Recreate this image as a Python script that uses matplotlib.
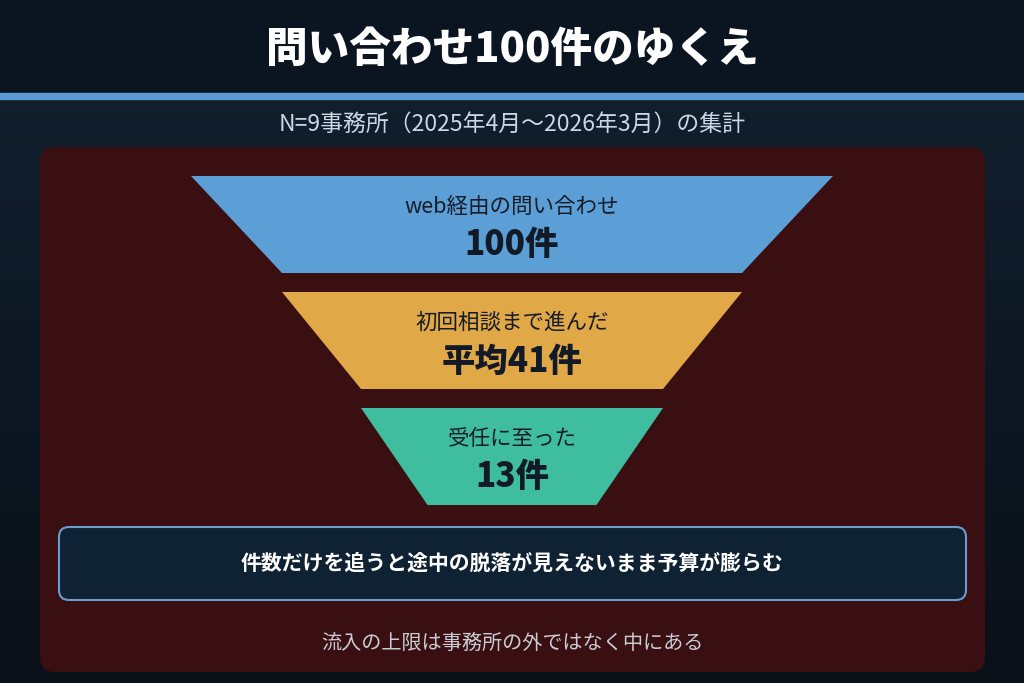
import numpy as np
import matplotlib.pyplot as plt
from matplotlib.patches import Polygon, FancyBboxPatch, Rectangle

plt.rcParams['font.family'] = ['Noto Sans CJK JP', 'DejaVu Sans']

# chart content
title = "問い合わせ100件のゆくえ"
subtitle = "N=9事務所（2025年4月〜2026年3月）の集計"
stage_labels = ["web経由の問い合わせ", "初回相談まで進んだ", "受任に至った"]
stage_values = ["100件", "平均41件", "13件"]
stage_colors = ["#5b9fd6", "#e0a846", "#3fbd9f"]
note_text = "件数だけを追うと途中の脱落が見えないまま予算が膨らむ"
footer_text = "流入の上限は事務所の外ではなく中にある"

W, H = 1024, 683
fig = plt.figure(figsize=(W / 100, H / 100), dpi=100)
ax = fig.add_axes([0, 0, 1, 1])
ax.set_xlim(0, W)
ax.set_ylim(H, 0)
ax.axis("off")

# background gradient
grad = np.linspace(0, 1, 256).reshape(-1, 1)
c_top = np.array([0x12, 0x21, 0x31]) / 255
c_bot = np.array([0x0a, 0x10, 0x18]) / 255
img = c_top + (c_bot - c_top) * grad[..., None]
ax.imshow(img, extent=[0, W, H, 0], aspect="auto", zorder=0)

# header
ax.add_patch(Rectangle((0, 0), W, 93, color="#0b1522", zorder=1))
ax.add_patch(Rectangle((0, 93), W, 6, color="#5a9bd5", zorder=2))
ax.text(W / 2, 50, title, color="white", fontsize=30, fontweight="heavy",
        ha="center", va="center", zorder=3)
ax.text(W / 2, 124, subtitle, color="#c9d7e6", fontsize=16.5,
        ha="center", va="center", zorder=3)

# panel
ax.add_patch(FancyBboxPatch((40, 147), 945, 525,
                            boxstyle="round,pad=0,rounding_size=15",
                            linewidth=0, facecolor="#3a0f11", zorder=1))

# funnel
widths = [642, 460, 302, 169]
tops = [176, 292, 408]
seg_h = 97
cx = 512
for i, (lab, val, col) in enumerate(zip(stage_labels, stage_values, stage_colors)):
    y0, y1 = tops[i], tops[i] + seg_h
    wt, wb = widths[i], widths[i + 1]
    poly = Polygon([(cx - wt / 2, y0), (cx + wt / 2, y0),
                    (cx + wb / 2, y1), (cx - wb / 2, y1)],
                   closed=True, facecolor=col, edgecolor="none", zorder=2)
    ax.add_patch(poly)
    ax.text(cx, y0 + 31, lab, color="#161c28", fontsize=15.5,
            ha="center", va="center", zorder=3)
    ax.text(cx, y0 + 69, val, color="#111a26", fontsize=24, fontweight="heavy",
            ha="center", va="center", zorder=3)

# note box
ax.add_patch(FancyBboxPatch((59, 527), 907, 73,
                            boxstyle="round,pad=0,rounding_size=10",
                            linewidth=1.5, edgecolor="#6b9bd0",
                            facecolor="#0f2233", zorder=2))
ax.text(cx, 563, note_text, color="white", fontsize=15, fontweight="bold",
        ha="center", va="center", zorder=3)

ax.text(cx, 643, footer_text, color="#c9ccd4", fontsize=14.5,
        ha="center", va="center", zorder=3)

fig.savefig("out.png", dpi=100, facecolor="#0b1522")
